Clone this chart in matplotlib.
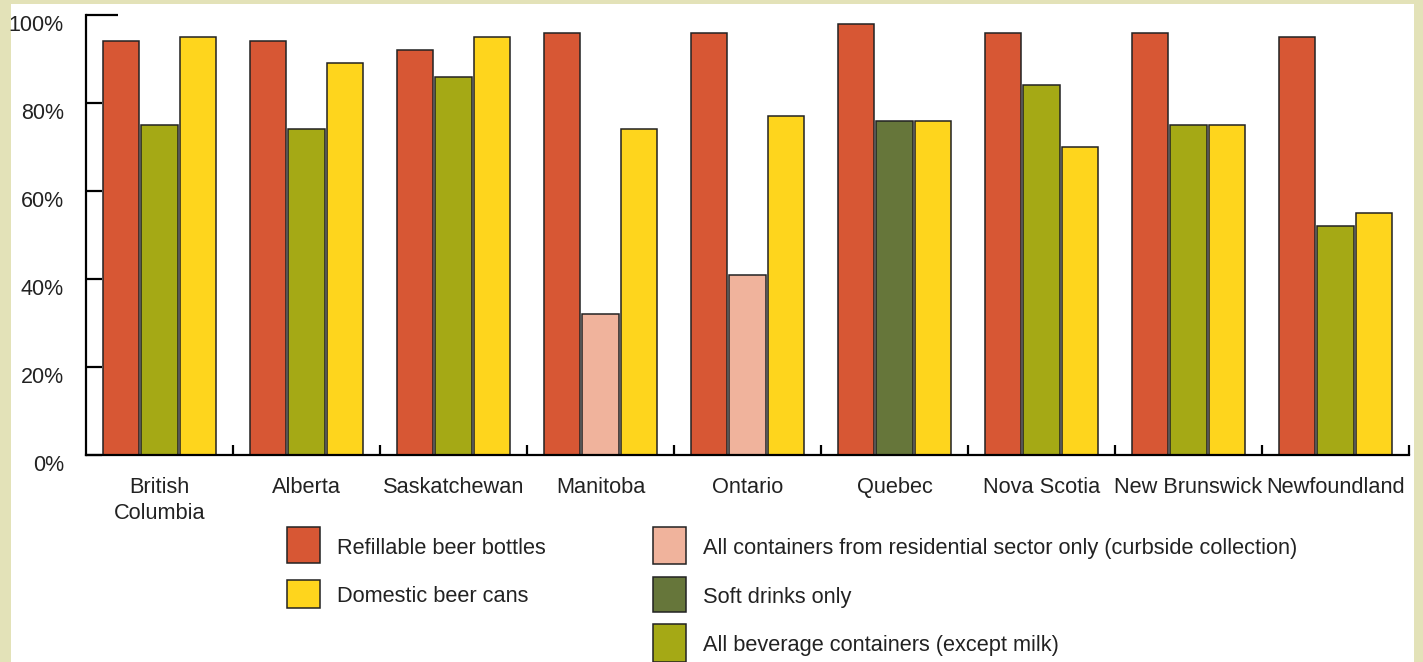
import numpy as np
import matplotlib
matplotlib.use("Agg")
import matplotlib.pyplot as plt
from matplotlib.patches import Rectangle
from matplotlib.transforms import ScaledTranslation

plt.rcParams['font.family'] = ['Liberation Sans', 'DejaVu Sans']

provinces = ["British\nColumbia", "Alberta", "Saskatchewan", "Manitoba", "Ontario",
             "Quebec", "Nova Scotia", "New Brunswick", "Newfoundland"]
refillable_bottles = [94, 94, 92, 96, 96, 98, 96, 96, 95]
other_containers = [75, 74, 86, 32, 41, 76, 84, 75, 52]
other_kind = ["all", "all", "all", "residential", "residential", "soft", "all", "all", "all"]
beer_cans = [95, 89, 95, 74, 77, 76, 70, 75, 55]
y_ticks = [0, 20, 40, 60, 80, 100]

RED = "#D75734"
YELLOW = "#FED51D"
PINK = "#F0B39C"
DKGREEN = "#66763A"
OLIVE = "#A5A915"
EDGE = "#222222"
kind_colors = {"residential": PINK, "soft": DKGREEN, "all": OLIVE}

W, H = 1423, 662
fig = plt.figure(figsize=(W / 100, H / 100), dpi=100)
fig.patch.set_facecolor("#E3E2B8")

# white panel behind everything
fig.patches.append(Rectangle((11 / W, 0), (1414 - 11) / W, 1 - 4 / H,
                             transform=fig.transFigure, facecolor="white",
                             edgecolor="none", zorder=-5))

ax = fig.add_axes([86 / W, 1 - 455 / H, (1409 - 86) / W, (455 - 15) / H])
ax.set_facecolor("none")
ax.set_zorder(2)

x = np.arange(len(provinces))
bw = 0.245
step = 0.265
ax.bar(x - step, refillable_bottles, bw, color=RED, edgecolor=EDGE, linewidth=1.1, zorder=3)
ax.bar(x, other_containers, bw, color=[kind_colors[k] for k in other_kind],
       edgecolor=EDGE, linewidth=1.1, zorder=3)
ax.bar(x + step, beer_cans, bw, color=YELLOW, edgecolor=EDGE, linewidth=1.1, zorder=3)

ax.set_xlim(-0.5, len(provinces) - 0.5)
ax.set_ylim(0, 100)

for s in ["top", "right"]:
    ax.spines[s].set_visible(False)
for s in ["left", "bottom"]:
    ax.spines[s].set_linewidth(1.6)
    ax.spines[s].set_color("black")
    ax.spines[s].set_zorder(4)

# y axis: inward ticks, labels pushed a little below the tick
ax.set_yticks(y_ticks)
ax.set_yticklabels([f"{v}%" for v in y_ticks])
ax.tick_params(axis="y", direction="in", length=11.5, width=1.6, pad=16,
               labelsize=15.5, labelcolor="#222222")
ax.yaxis.get_major_ticks()[-1].tick1line.set_markersize(23)
off = ScaledTranslation(0, -5.5 / 72, fig.dpi_scale_trans)
for lab in ax.get_yticklabels():
    lab.set_transform(lab.get_transform() + off)

# x axis: labels at group centres, small separators between groups
ax.set_xticks(x)
ax.set_xticklabels(provinces, linespacing=1.35)
ax.tick_params(axis="x", length=0, pad=15.5, labelsize=15.7, labelcolor="#222222")
ax.set_xticks(np.arange(0.5, len(provinces) - 0.4, 1.0), minor=True)
ax.tick_params(axis="x", which="minor", direction="in", length=7, width=1.6)

# legend
legend_items = [
    (287, 527, 36, RED, "Refillable beer bottles"),
    (287, 580, 28, YELLOW, "Domestic beer cans"),
    (653, 527, 37, PINK, "All containers from residential sector only (curbside collection)"),
    (653, 577, 35, DKGREEN, "Soft drinks only"),
    (653, 624, 38, OLIVE, "All beverage containers (except milk)"),
]
for px, py, ph, col, txt in legend_items:
    fig.patches.append(Rectangle((px / W, 1 - (py + ph) / H), 33 / W, ph / H,
                                 transform=fig.transFigure, facecolor=col,
                                 edgecolor=EDGE, linewidth=1.1, zorder=2))
    fig.text((px + 50) / W, 1 - (py + ph / 2 + 3) / H, txt, fontsize=15.7,
             color="#222222", va="center", ha="left")

fig.savefig("out.png", dpi=100, facecolor=fig.get_facecolor())
